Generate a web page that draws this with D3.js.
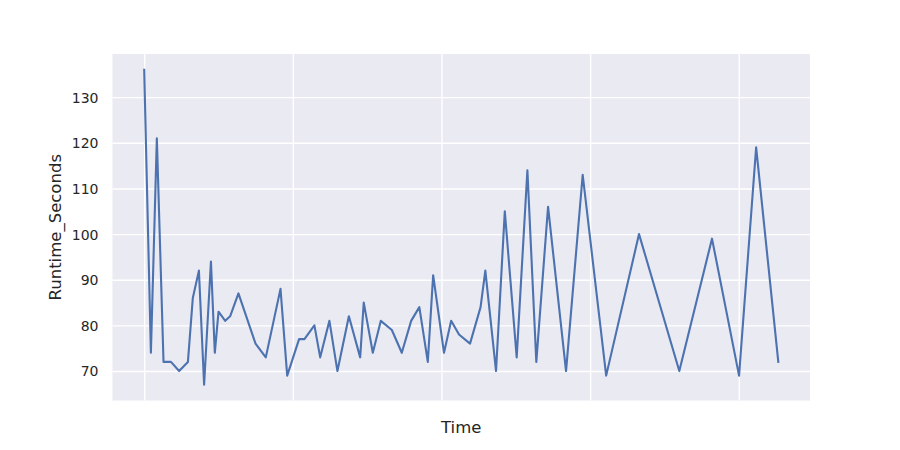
<!DOCTYPE html>
<html>
<head>
<meta charset="utf-8">
<script src="https://cdn.jsdelivr.net/npm/d3@7"></script>
<style>
  html, body { margin: 0; padding: 0; background: #fff; }
  svg { display: block; }
</style>
</head>
<body>
<svg id="chart" width="900" height="450"></svg>
<script>
// Time (arbitrary units; x-axis tick labels are hidden in the reference)
const times = [0, 0.45, 0.85, 1.3, 1.8, 2.35, 2.94, 3.27, 3.68, 4.03, 4.49, 4.75, 5.0, 5.45, 5.78, 6.34,
  7.49, 8.18, 9.17, 9.62, 10.42, 10.78, 11.45, 11.84, 12.46, 13.0, 13.77, 14.53, 14.77, 15.38, 15.92,
  16.66, 17.33, 17.96, 18.51, 19.08, 19.44, 20.17, 20.65, 21.18, 21.92, 22.63, 22.95, 23.67, 24.26,
  25.06, 25.78, 26.38, 27.17, 28.38, 29.5, 31.08, 33.29, 36.0, 38.2, 40.02, 41.17, 42.66];
const runtimeSeconds = [136, 74, 121, 72, 72, 70, 72, 86, 92, 67, 94, 74, 83, 81, 82, 87,
  76, 73, 88, 69, 77, 77, 80, 73, 81, 70, 82, 73, 85, 74, 81,
  79, 74, 81, 84, 72, 91, 74, 81, 78, 76, 84, 92, 70, 105,
  73, 114, 72, 106, 70, 113, 69, 100, 70, 99, 69, 119, 72];
const xTicks = [0, 10, 20, 30, 40];
const yTicks = [70, 80, 90, 100, 110, 120, 130];
const xLabel = "Time";
const yLabel = "Runtime_Seconds";

const svg = d3.select("#chart");
const L = 112.5, R = 810, T = 54, B = 400.5;
const textColor = "#262626";

const tMin = d3.min(times), tMax = d3.max(times);
const tPad = (tMax - tMin) * 0.05;
const vMin = d3.min(runtimeSeconds), vMax = d3.max(runtimeSeconds);
const vPad = (vMax - vMin) * 0.05;

const x = d3.scaleLinear().domain([tMin - tPad, tMax + tPad]).range([L, R]);
const y = d3.scaleLinear().domain([vMin - vPad, vMax + vPad]).range([B, T]);

svg.append("rect").attr("x", L).attr("y", T).attr("width", R - L).attr("height", B - T)
  .attr("fill", "#eaeaf2");

// gridlines via axes
const gx = svg.append("g").attr("transform", `translate(0,${B})`)
  .call(d3.axisBottom(x).tickValues(xTicks).tickSize(-(B - T)).tickFormat(""));
gx.select(".domain").remove();
gx.selectAll("line").attr("stroke", "#ffffff").attr("stroke-width", 1.4);

const gy = svg.append("g").attr("transform", `translate(${L},0)`)
  .call(d3.axisLeft(y).tickValues(yTicks).tickSize(-(R - L)).tickPadding(14).tickFormat(d3.format("d")));
gy.select(".domain").remove();
gy.selectAll("line").attr("stroke", "#ffffff").attr("stroke-width", 1.4);
gy.selectAll("text").attr("fill", textColor).attr("font-family", "DejaVu Sans")
  .attr("font-size", 14).attr("dy", "0.35em");

const line = d3.line().x((d, i) => x(times[i])).y(d => y(d));
svg.append("path").datum(runtimeSeconds)
  .attr("d", line)
  .attr("fill", "none")
  .attr("stroke", "#4c72b0")
  .attr("stroke-width", 2.1)
  .attr("stroke-linejoin", "round")
  .attr("stroke-linecap", "square");

svg.append("text").attr("x", (L + R) / 2).attr("y", 433)
  .attr("text-anchor", "middle").attr("fill", textColor)
  .attr("font-family", "DejaVu Sans").attr("font-size", 16.5).text(xLabel);

svg.append("text").attr("transform", `translate(61,${(T + B) / 2}) rotate(-90)`)
  .attr("text-anchor", "middle").attr("fill", textColor)
  .attr("font-family", "DejaVu Sans").attr("font-size", 16.5).text(yLabel);
</script>
</body>
</html>
